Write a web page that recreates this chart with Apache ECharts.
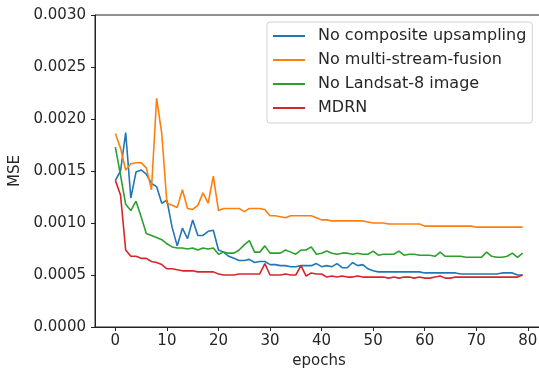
<!DOCTYPE html>
<html>
<head>
<meta charset="utf-8">
<script src="https://cdn.jsdelivr.net/npm/echarts@6/dist/echarts.min.js"></script>
<style>
  html, body { margin: 0; padding: 0; background: #fff; }
  #chart { width: 539px; height: 375px; }
</style>
</head>
<body>
<div id="chart"></div>
<script>
const seriesNames = ['No composite upsampling', 'No multi-stream-fusion', 'No Landsat-8 image', 'MDRN']
const colors = ['#1f77b4', '#ff7f0e', '#2ca02c', '#d62728']

const xTicks = [0, 10, 20, 30, 40, 50, 60, 70, 80]

const noComposite = [
  0.00141, 0.00150, 0.00187, 0.00124, 0.00149, 0.00151, 0.00147, 0.00138, 0.00135, 0.00119,
  0.00122, 0.00096, 0.00078, 0.00095, 0.00085, 0.00103, 0.00088, 0.00088, 0.00092, 0.00093,
  0.00074, 0.00072, 0.00068, 0.00066, 0.00064, 0.00064, 0.00065, 0.00062, 0.00063, 0.00063,
  0.00060, 0.00060, 0.00059, 0.00059, 0.00058, 0.00058, 0.00059, 0.00059, 0.00059, 0.00061,
  0.00058, 0.00059, 0.00058, 0.00061, 0.00057, 0.00057, 0.00062, 0.00059, 0.00060, 0.00056,
  0.00054, 0.00053, 0.00053, 0.00053, 0.00053, 0.00053, 0.00053, 0.00053, 0.00053, 0.00053,
  0.00052, 0.00052, 0.00052, 0.00052, 0.00052, 0.00052, 0.00052, 0.00051, 0.00051, 0.00051,
  0.00051, 0.00051, 0.00051, 0.00051, 0.00051, 0.00052, 0.00052, 0.00052, 0.00050, 0.00050
]
const noFusion = [
  0.00186, 0.00172, 0.00151, 0.00157, 0.00158, 0.00158, 0.00153, 0.00132, 0.00220, 0.00186,
  0.00119, 0.00117, 0.00115, 0.00132, 0.00114, 0.00113, 0.00117, 0.00129, 0.00119, 0.00145,
  0.00112, 0.00114, 0.00114, 0.00114, 0.00114, 0.00111, 0.00114, 0.00114, 0.00114, 0.00113,
  0.00107, 0.00107, 0.00106, 0.00105, 0.00107, 0.00107, 0.00107, 0.00107, 0.00107, 0.00105,
  0.00103, 0.00103, 0.00102, 0.00102, 0.00102, 0.00102, 0.00102, 0.00102, 0.00102, 0.00101,
  0.00100, 0.00100, 0.00100, 0.00099, 0.00099, 0.00099, 0.00099, 0.00099, 0.00099, 0.00099,
  0.00097, 0.00097, 0.00097, 0.00097, 0.00097, 0.00097, 0.00097, 0.00097, 0.00097, 0.00097,
  0.00096, 0.00096, 0.00096, 0.00096, 0.00096, 0.00096, 0.00096, 0.00096, 0.00096, 0.00096
]
const noLandsat = [
  0.00173, 0.00146, 0.00118, 0.00112, 0.00121, 0.00106, 0.00090, 0.00088, 0.00086, 0.00084,
  0.00080, 0.00077, 0.00076, 0.00076, 0.00075, 0.00076, 0.00074, 0.00076, 0.00075, 0.00076,
  0.00070, 0.00072, 0.00071, 0.00071, 0.00074, 0.00079, 0.00083, 0.00072, 0.00072, 0.00078,
  0.00071, 0.00071, 0.00071, 0.00074, 0.00072, 0.00070, 0.00074, 0.00074, 0.00077, 0.00070,
  0.00071, 0.00073, 0.00071, 0.00070, 0.00071, 0.00071, 0.00070, 0.00071, 0.00070, 0.00070,
  0.00073, 0.00069, 0.00070, 0.00070, 0.00070, 0.00073, 0.00069, 0.00070, 0.00070, 0.00069,
  0.00069, 0.00069, 0.00068, 0.00072, 0.00068, 0.00068, 0.00068, 0.00068, 0.00067, 0.00067,
  0.00067, 0.00067, 0.00072, 0.00068, 0.00067, 0.00067, 0.00068, 0.00071, 0.00067, 0.00071
]
const mdrn = [
  0.00141, 0.00127, 0.00074, 0.00068, 0.00068, 0.00066, 0.00066, 0.00063, 0.00062, 0.00060,
  0.00056, 0.00056, 0.00055, 0.00054, 0.00054, 0.00054, 0.00053, 0.00053, 0.00053, 0.00053,
  0.00051, 0.00050, 0.00050, 0.00050, 0.00051, 0.00051, 0.00051, 0.00051, 0.00051, 0.00061,
  0.00050, 0.00050, 0.00050, 0.00051, 0.00050, 0.00050, 0.00059, 0.00049, 0.00052, 0.00051,
  0.00051, 0.00048, 0.00049, 0.00048, 0.00049, 0.00048, 0.00048, 0.00049, 0.00048, 0.00048,
  0.00048, 0.00048, 0.00048, 0.00047, 0.00048, 0.00047, 0.00048, 0.00048, 0.00047, 0.00048,
  0.00047, 0.00047, 0.00048, 0.00049, 0.00047, 0.00047, 0.00048, 0.00048, 0.00048, 0.00048,
  0.00048, 0.00048, 0.00048, 0.00048, 0.00048, 0.00048, 0.00048, 0.00048, 0.00048, 0.00050
]

const allSeries = [noComposite, noFusion, noLandsat, mdrn]
const font = 'DejaVu Sans'
const textColor = '#262626'

const chart = echarts.init(document.getElementById('chart'))
chart.setOption({
  animation: false,
  textStyle: { fontFamily: font },
  grid: {
    left: 95, top: 15, width: 448, bottom: 48,
    outerBoundsMode: 'none',
    containLabel: false,
    show: true, borderColor: '#222', borderWidth: 1, backgroundColor: 'transparent'
  },
  legend: {
    orient: 'vertical',
    left: 267,
    top: 22,
    padding: [6, 6, 7, 6],
    itemGap: 8,
    itemWidth: 32,
    itemHeight: 2,
    icon: 'rect',
    backgroundColor: 'rgba(255,255,255,0.8)',
    borderColor: '#d0d0d0',
    borderWidth: 1,
    borderRadius: 3,
    textStyle: { fontFamily: font, fontSize: 16, color: textColor, padding: [0, 0, 0, 8] },
    data: seriesNames
  },
  xAxis: {
    type: 'value',
    min: -3.95,
    max: 82.95,
    name: 'epochs',
    nameLocation: 'middle',
    nameGap: 26,
    nameTextStyle: { fontFamily: font, fontSize: 15, color: textColor },
    axisLine: { onZero: false, lineStyle: { color: '#222', width: 1 } },
    axisTick: { show: true, length: 4, lineStyle: { color: '#222' }, customValues: xTicks },
    axisLabel: { fontFamily: font, fontSize: 15, color: textColor, margin: 7, customValues: xTicks },
    splitLine: { show: false }
  },
  yAxis: {
    type: 'value',
    min: 0,
    max: 0.003,
    interval: 0.0005,
    name: 'MSE',
    nameLocation: 'middle',
    nameGap: 69,
    nameTextStyle: { fontFamily: font, fontSize: 15, color: textColor },
    axisLine: { show: true, onZero: false, lineStyle: { color: '#222', width: 1 } },
    axisTick: { show: true, length: 4, lineStyle: { color: '#222' } },
    axisLabel: {
      fontFamily: font, fontSize: 15, color: textColor, margin: 9,
      formatter: v => v.toFixed(4)
    },
    splitLine: { show: false }
  },
  series: allSeries.map((vals, s) => ({
    name: seriesNames[s],
    type: 'line',
    showSymbol: false,
    symbol: 'none',
    color: colors[s],
    lineStyle: { width: 1.6, color: colors[s] },
    data: vals.map((v, i) => [i, v])
  }))
})
</script>
</body>
</html>
